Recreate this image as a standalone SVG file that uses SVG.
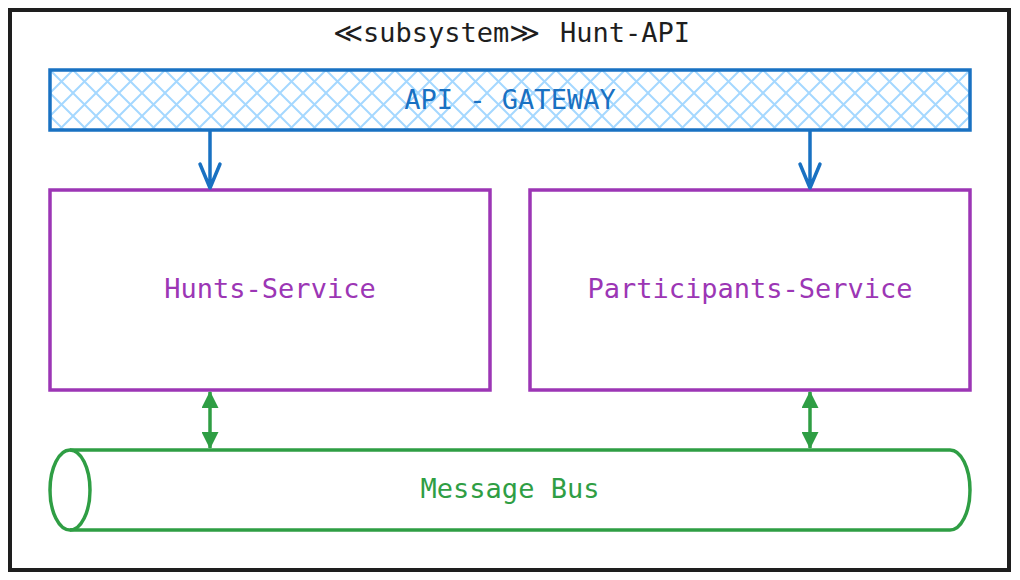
<svg xmlns="http://www.w3.org/2000/svg" width="1020" height="580" viewBox="0 0 1020 580">
  <style>
    .lbl { font-family: "DejaVu Sans Mono", "Liberation Mono", monospace; font-size: 27px; text-anchor: middle; }
    .ttl { font-family: "DejaVu Sans Mono", "Liberation Mono", monospace; font-size: 27px; text-anchor: start; fill: #1e1e1e; }
    .blue { fill: #1971c2; }
    .purple { fill: #9c36b5; }
    .green { fill: #2f9e44; }
    .svc { fill: #ffffff; stroke: #9c36b5; stroke-width: 3.5; }
    .flow { stroke: #1971c2; stroke-width: 3.5; fill: none; stroke-linecap: round; stroke-linejoin: round; }
    .bus { stroke: #2f9e44; stroke-width: 3.5; fill: none; }
  </style>
  <defs>
    <pattern id="hatch" patternUnits="userSpaceOnUse" x="50" y="70" width="23" height="23">
      <path d="M-2,2 L2,-2 M0,23 L23,0 M21,25 L25,21 M-2,21 L2,25 M0,0 L23,23 M21,-2 L25,2" stroke="#a5d8ff" stroke-width="2" fill="none"/>
    </pattern>
    <marker id="tri" viewBox="0 0 17 17" refX="16" refY="8.5" markerWidth="17" markerHeight="17" markerUnits="userSpaceOnUse" orient="auto-start-reverse">
      <path d="M0,0 L17,8.5 L0,17 Z" fill="#2f9e44"/>
    </marker>
  </defs>

  <rect x="0" y="0" width="1020" height="580" fill="#ffffff"/>

  <g id="frame">
    <rect x="10" y="10" width="999" height="560" fill="none" stroke="#1e1e1e" stroke-width="4"/>
    <text class="ttl" y="42"><tspan x="333" textLength="30" lengthAdjust="spacingAndGlyphs">≪</tspan><tspan x="363">subsystem</tspan><tspan x="509" textLength="31" lengthAdjust="spacingAndGlyphs">≫</tspan><tspan x="560">Hunt-API</tspan></text>
  </g>

  <g id="gateway">
    <rect x="50" y="70" width="920" height="60" fill="url(#hatch)" stroke="#1971c2" stroke-width="3.5"/>
    <text class="lbl blue" x="510" y="109">API - GATEWAY</text>
  </g>

  <g id="hunts-service">
    <rect class="svc" x="50" y="190" width="440" height="200"/>
    <text class="lbl purple" x="270" y="298">Hunts-Service</text>
  </g>

  <g id="participants-service">
    <rect class="svc" x="530" y="190" width="440" height="200"/>
    <text class="lbl purple" x="750" y="298">Participants-Service</text>
  </g>

  <g id="message-bus">
    <path class="bus" d="M70,450 L950,450 A20,40 0 0 1 950,530 L70,530"/>
    <ellipse class="bus" cx="70" cy="490" rx="20" ry="40" fill="#ffffff"/>
    <text class="lbl green" x="510" y="498">Message Bus</text>
  </g>

  <g id="connectors">
    <path class="flow" d="M210,131 L210,188 M200,164 L210,188 L220,164"/>
    <path class="flow" d="M810,131 L810,188 M800,164 L810,188 L820,164"/>
    <line x1="210" y1="392" x2="210" y2="448" stroke="#2f9e44" stroke-width="3.5" marker-start="url(#tri)" marker-end="url(#tri)"/>
    <line x1="810" y1="392" x2="810" y2="448" stroke="#2f9e44" stroke-width="3.5" marker-start="url(#tri)" marker-end="url(#tri)"/>
  </g>
</svg>
